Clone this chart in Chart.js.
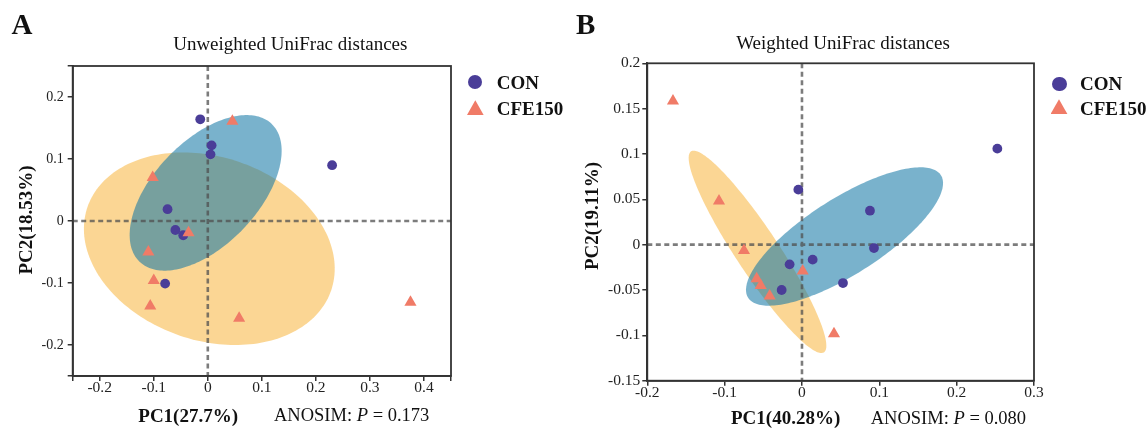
<!DOCTYPE html>
<html><head><meta charset="utf-8">
<script src="https://cdn.jsdelivr.net/npm/chart.js@4.4.1/dist/chart.umd.min.js"></script>
<style>
html,body{margin:0;padding:0;background:#fff;}
#wrap{position:relative;width:1147px;height:429px;overflow:hidden;font-family:'Liberation Serif','Times New Roman',serif;color:#111;}
canvas{position:absolute;top:0;}
.t{position:absolute;white-space:nowrap;line-height:1;}
.b{font-weight:bold;}
.c{transform:translateX(-50%);}
.r{transform:translate(-50%,-50%) rotate(-90deg);}
.dot{position:absolute;width:14.5px;height:14.5px;border-radius:50%;background:#4a3d98;}
.tri{position:absolute;width:17px;height:15px;background:#f07b67;clip-path:polygon(50% 0,100% 100%,0 100%);}
</style></head><body>
<div id="wrap">
<canvas id="cA" width="575" height="429" style="left:0px"></canvas>
<canvas id="cB" width="572" height="429" style="left:575px"></canvas>

<div class="t b" style="left:11.5px;top:10px;font-size:29px;">A</div>
<div class="t b" style="left:576px;top:10px;font-size:29px;">B</div>
<div class="t c" style="left:290.3px;top:34.1px;font-size:19px;">Unweighted UniFrac distances</div>
<div class="t c" style="left:843px;top:33.4px;font-size:19px;">Weighted UniFrac distances</div>

<div class="t b" style="left:138.3px;top:405.8px;font-size:19px;">PC1(27.7%)</div>
<div class="t" style="left:274px;top:406.2px;font-size:18.5px;">ANOSIM: <i>P</i> = 0.173</div>
<div class="t b" style="left:731px;top:408.1px;font-size:19px;">PC1(40.28%)</div>
<div class="t" style="left:870.7px;top:408.5px;font-size:18.5px;">ANOSIM: <i>P</i> = 0.080</div>

<div class="t b r" style="left:25px;top:220px;font-size:19px;">PC2(18.53%)</div>
<div class="t b r" style="left:590.5px;top:216px;font-size:19px;">PC2(19.11%)</div>

<div class="dot" style="left:467.8px;top:74.8px"></div>
<div class="tri" style="left:466.8px;top:100.3px"></div>
<div class="t b" style="left:496.7px;top:73.4px;font-size:19px;">CON</div>
<div class="t b" style="left:496.7px;top:99.1px;font-size:19px;">CFE150</div>

<div class="dot" style="left:1052px;top:76.7px"></div>
<div class="tri" style="left:1050.5px;top:99.2px"></div>
<div class="t b" style="left:1080px;top:74.1px;font-size:19px;">CON</div>
<div class="t b" style="left:1080px;top:99.1px;font-size:19px;">CFE150</div>
</div>
<script>
// ---------- Data: panel A (Unweighted UniFrac) ----------
const conXA = [-0.014, 0.007, 0.005, 0.230, -0.0745, -0.060, -0.0455, -0.079];
const conYA = [0.164, 0.122, 0.1075, 0.090, 0.019, -0.0145, -0.023, -0.101];
const cfeXA = [0.0455, -0.102, -0.0357, -0.110, -0.100, -0.1065, 0.058, 0.375];
const cfeYA = [0.161, 0.070, -0.019, -0.050, -0.096, -0.137, -0.157, -0.131];
const xTickLabelsA = ['-0.2','-0.1','0','0.1','0.2','0.3','0.4'];
const yTickLabelsA = ['-0.2','-0.1','0','0.1','0.2'];
// ellipse: centre, two conjugate semi-axis vectors (data units)
const ellConA = {c:[-0.004, 0.0454], u:[0.1223, 0.1111], v:[0.0694, -0.0583]};
const ellCfeA = {c:[0.0028, -0.0447], u:[0.2256, -0.0668], v:[-0.0543, -0.1402]};

// ---------- Data: panel B (Weighted UniFrac) ----------
const conXB = [-0.0047, 0.2526, 0.0879, 0.0931, 0.0138, -0.016, 0.053, -0.0263];
const conYB = [0.0607, 0.1059, 0.0375, -0.0037, -0.0165, -0.0217, -0.0423, -0.050];
const cfeXB = [-0.1668, -0.1073, -0.075, 0.0009, -0.0586, -0.0534, -0.0418, 0.0414];
const cfeYB = [0.1585, 0.0481, -0.0063, -0.0291, -0.0375, -0.0449, -0.0565, -0.0982];
const xTickLabelsB = ['-0.2','-0.1','0','0.1','0.2','0.3'];
const yTickLabelsB = ['-0.15','-0.1','-0.05','0','0.05','0.1','0.15','0.2'];
const ellConB = {c:[0.055, 0.009], u:[0.1246, 0.0676], v:[0.0264, -0.0354]};
const ellCfeB = {c:[-0.0575, -0.0079], u:[0.0859, -0.1108], v:[-0.0233, -0.01317]};

const CON_COLOR = '#4a3d98';
const CFE_COLOR = '#f07b67';
const CON_FILL = 'rgba(20,120,165,0.57)';
const CFE_FILL = 'rgba(247,180,60,0.55)';
const AXIS = '#333';
const FONT = "'Liberation Serif','Times New Roman',serif";

function pts(xs, ys){ return xs.map((x,i)=>({x:x, y:ys[i]})); }

function tickSetup(labels, min, max, withBounds){
  const vals = labels.map(parseFloat);
  let all = vals.slice();
  if (withBounds){ if (!all.some(v=>Math.abs(v-min)<1e-9)) all.unshift(min); if (!all.some(v=>Math.abs(v-max)<1e-9)) all.push(max); }
  return {
    after: s => { s.ticks = all.map(v=>({value:v})); },
    cb: v => { const i = vals.findIndex(t=>Math.abs(t-v)<1e-9); return i<0 ? '' : labels[i]; }
  };
}

function overlayPlugin(ells){
  return {
    id:'overlay',
    beforeDatasetsDraw(chart){
      const {ctx, chartArea:a, scales:{x, y}} = chart;
      ctx.save();
      ctx.beginPath(); ctx.rect(a.left, a.top, a.right-a.left, a.bottom-a.top); ctx.clip();
      ells.forEach(e=>{
        ctx.beginPath();
        const N = 200;
        for (let i=0;i<=N;i++){
          const t = i/N*2*Math.PI;
          const px = x.getPixelForValue(e.c[0] + e.u[0]*Math.cos(t) + e.v[0]*Math.sin(t));
          const py = y.getPixelForValue(e.c[1] + e.u[1]*Math.cos(t) + e.v[1]*Math.sin(t));
          if (i===0) ctx.moveTo(px,py); else ctx.lineTo(px,py);
        }
        ctx.closePath();
        ctx.fillStyle = e.color; ctx.fill();
      });
      const x0 = x.getPixelForValue(0), y0 = y.getPixelForValue(0);
      ctx.setLineDash([5,3.5]);
      ctx.lineWidth = 2.6;
      ctx.strokeStyle = 'rgba(80,80,80,0.75)';
      ctx.beginPath();
      ctx.moveTo(x0, a.top); ctx.lineTo(x0, a.bottom);
      ctx.moveTo(a.left, y0); ctx.lineTo(a.right, y0);
      ctx.stroke();
      ctx.restore();
    },
    afterDraw(chart){
      const {ctx, chartArea:a} = chart;
      ctx.save();
      ctx.lineWidth = 1.8; ctx.strokeStyle = AXIS;
      ctx.strokeRect(a.left, a.top, a.right-a.left, a.bottom-a.top);
      ctx.restore();
    }
  };
}

function makeChart(id, cfg){
  const tx = tickSetup(cfg.xLabels, cfg.xmin, cfg.xmax, true);
  const ty = tickSetup(cfg.yLabels, cfg.ymin, cfg.ymax, true);
  const axisCommon = {
    grid:{display:true, drawOnChartArea:false, drawTicks:true, tickLength:5, color:AXIS, lineWidth:1.5},
    border:{display:true, color:AXIS, width:1.8}
  };
  return new Chart(document.getElementById(id), {
    type:'scatter',
    data:{datasets:[
      {label:'CFE150', data:pts(cfg.cfeX, cfg.cfeY), pointStyle:'triangle', pointRadius:7, backgroundColor:CFE_COLOR, borderWidth:0, order:0},
      {label:'CON', data:pts(cfg.conX, cfg.conY), pointStyle:'circle', pointRadius:4.9, backgroundColor:CON_COLOR, borderWidth:0, order:1}
    ]},
    options:{
      responsive:false, animation:false, events:[],
      layout:{padding:{left:0, top:cfg.top, right:cfg.right, bottom:0}},
      plugins:{legend:{display:false}, tooltip:{enabled:false}, title:{display:false}},
      scales:{
        x:Object.assign({type:'linear', position:'bottom', min:cfg.xmin, max:cfg.xmax,
          afterBuildTicks:tx.after,
          ticks:{callback:tx.cb, autoSkip:false, maxRotation:0, padding:-2, color:'#222', font:{family:FONT, size:cfg.xFont}},
          afterFit:s=>{ s.height = cfg.xh; }}, axisCommon),
        y:Object.assign({type:'linear', position:'left', min:cfg.ymin, max:cfg.ymax,
          afterBuildTicks:ty.after,
          ticks:{callback:ty.cb, autoSkip:false, padding:cfg.yPad, color:'#222', font:{family:FONT, size:cfg.yFont}},
          afterFit:s=>{ s.width = cfg.yw; }}, axisCommon)
      }
    },
    plugins:[overlayPlugin(cfg.ells)]
  });
}

makeChart('cA', {
  conX:conXA, conY:conYA, cfeX:cfeXA, cfeY:cfeYA,
  xLabels:xTickLabelsA, yLabels:yTickLabelsA,
  xmin:-0.25, xmax:0.45, ymin:-0.25, ymax:0.25,
  top:66, right:124, xh:53, yw:72.7, xFont:15.5, yFont:14, yPad:4,
  ells:[Object.assign({color:CFE_FILL}, ellCfeA), Object.assign({color:CON_FILL}, ellConA)]
});
makeChart('cB', {
  conX:conXB, conY:conYB, cfeX:cfeXB, cfeY:cfeYB,
  xLabels:xTickLabelsB, yLabels:yTickLabelsB,
  xmin:-0.2, xmax:0.3, ymin:-0.15, ymax:0.2,
  top:63.3, right:113, xh:48.3, yw:72.3, xFont:15.5, yFont:15.5, yPad:2,
  ells:[Object.assign({color:CFE_FILL}, ellCfeB), Object.assign({color:CON_FILL}, ellConB)]
});
</script>
</body></html>
